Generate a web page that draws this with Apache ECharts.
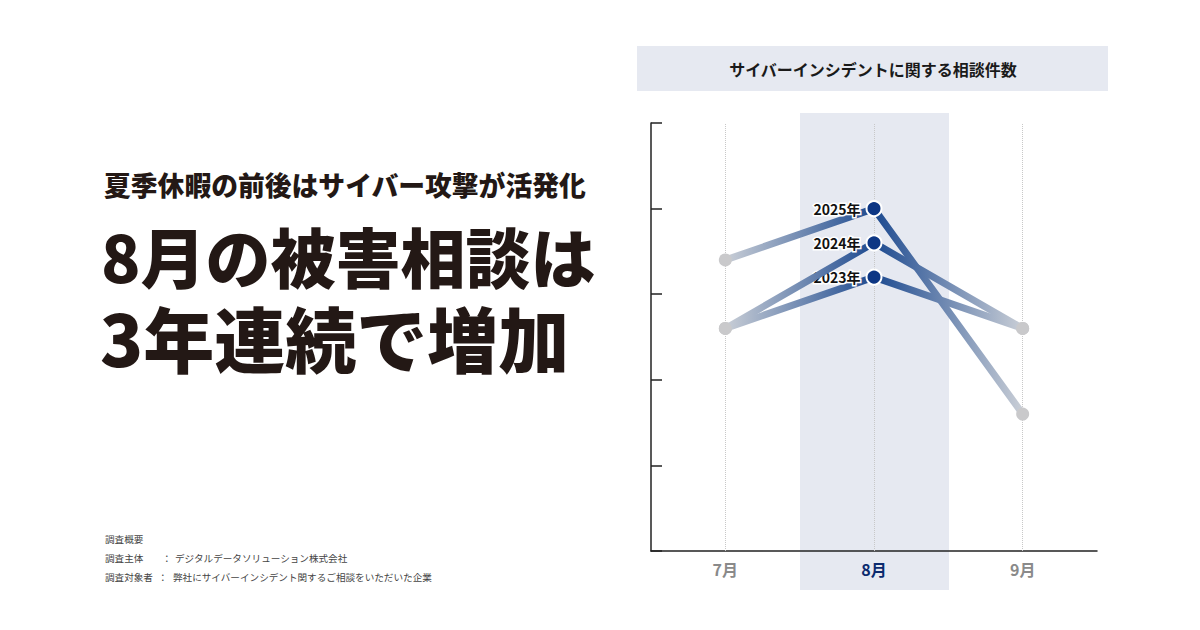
<!DOCTYPE html>
<html>
<head>
<meta charset="UTF-8">
<script src="https://cdn.jsdelivr.net/npm/echarts@6/dist/echarts.min.js"></script>
<style>
html,body{margin:0;padding:0;background:#fff;}
#main{width:1200px;height:630px;}
</style>
</head>
<body>
<div id="main"></div>
<script>
// 月
var months = ['7月', '8月', '9月'];
// 相談件数（目盛なし、相対値）
var years = ['2023年', '2024年', '2025年'];
var v2023 = [2.6, 3.2, 2.6];
var v2024 = [2.6, 3.6, 2.6];
var v2025 = [3.4, 4.0, 1.6];
var yTicks = [0, 1, 2, 3, 4, 5];

var FONT = '"Noto Sans CJK JP", "Noto Sans", sans-serif';
var NAVY = '#0d3684';
var GRAY_DOT = '#c9c9cb';

function buildData(vals) {
  return vals.map(function (v, i) {
    if (i === 1) {
      return { value: v, symbolSize: 15, itemStyle: { color: NAVY, borderColor: '#fff', borderWidth: 2 } };
    }
    return { value: v, symbolSize: 13, itemStyle: { color: GRAY_DOT, borderWidth: 0 } };
  });
}

function lineGrad() {
  return new echarts.graphic.LinearGradient(0, 0, 1, 0, [
    { offset: 0, color: '#c9ced6' },
    { offset: 0.5, color: '#1d4a90' },
    { offset: 1, color: '#c9ced6' }
  ]);
}

function makeSeries(name, vals, extra) {
  var s = {
    name: name,
    type: 'line',
    data: buildData(vals),
    symbol: 'circle',
    lineStyle: { width: 7, color: lineGrad(), cap: 'round' },
    label: {
      show: true,
      position: 'left',
      distance: 5,
      formatter: function (p) { return p.dataIndex === 1 ? name : ''; },
      fontFamily: FONT,
      fontWeight: 'bold',
      fontSize: 14,
      color: '#111',
      textBorderColor: '#fff',
      textBorderWidth: 3
    },
    emphasis: { disabled: true },
    silent: true,
    animation: false
  };
  if (extra) { for (var k in extra) s[k] = extra[k]; }
  return s;
}

var chart = echarts.init(document.getElementById('main'), null, { renderer: 'svg' });

var small = '9.6px ' + FONT;

chart.setOption({
  backgroundColor: '#fff',
  animation: false,
  grid: { left: 651, right: 103, top: 123, bottom: 79 },
  xAxis: {
    type: 'category',
    data: months,
    boundaryGap: true,
    axisLine: { lineStyle: { color: '#222', width: 1.5 } },
    axisTick: { inside: true, alignWithLabel: true, length: 6, lineStyle: { color: '#222', width: 1.5 } },
    axisLabel: {
      margin: 10,
      fontFamily: FONT,
      fontWeight: 'bold',
      fontSize: 16,
      color: function (v) { return v === '8月' ? '#0b2a6e' : '#8a8a8a'; }
    },
    splitLine: { show: false }
  },
  yAxis: {
    type: 'value',
    min: yTicks[0],
    max: yTicks[yTicks.length - 1],
    interval: 1,
    axisLine: { show: true, lineStyle: { color: '#222', width: 1.5 } },
    axisTick: { show: true, inside: true, length: 11, lineStyle: { color: '#222', width: 1.5 } },
    axisLabel: { show: false },
    splitLine: { show: false }
  },
  graphic: [
    // 8月ハイライト帯
    { type: 'rect', z: -10, shape: { x: 800, y: 113, width: 149, height: 477 }, style: { fill: '#e6e9f1' } },
    // グラフタイトル
    { type: 'rect', z: -10, shape: { x: 637, y: 46, width: 471, height: 45 }, style: { fill: '#e6e9f1' } },
    { type: 'text', x: 873, y: 69, style: { text: 'サイバーインシデントに関する相談件数', font: 'bold 16px ' + FONT, fill: '#1a1a1a', textAlign: 'center', textVerticalAlign: 'middle' } },
    // 見出し
    { type: 'text', x: 104, y: 184, style: { text: '夏季休暇の前後はサイバー攻撃が活発化', font: '900 26.8px ' + FONT, fill: '#231815', textAlign: 'left', textVerticalAlign: 'middle' } },
    { type: 'text', x: 101, y: 255, style: { text: '8月の被害相談は', font: '900 65px ' + FONT, fill: '#231815', textAlign: 'left', textVerticalAlign: 'middle' } },
    { type: 'text', x: 100, y: 336, style: { text: '3年連続で増加', font: '900 71px ' + FONT, fill: '#231815', textAlign: 'left', textVerticalAlign: 'middle' } },
    // 調査概要
    { type: 'text', x: 105, y: 539, style: { text: '調査概要', font: small, fill: '#444', textVerticalAlign: 'middle' } },
    { type: 'text', x: 105, y: 558, style: { text: '調査主体', font: small, fill: '#444', textVerticalAlign: 'middle' } },
    { type: 'text', x: 162, y: 558, style: { text: '：', font: small, fill: '#444', textVerticalAlign: 'middle' } },
    { type: 'text', x: 175, y: 558, style: { text: 'デジタルデータソリューション株式会社', font: small, fill: '#444', textVerticalAlign: 'middle' } },
    { type: 'text', x: 105, y: 577, style: { text: '調査対象者', font: small, fill: '#444', textVerticalAlign: 'middle' } },
    { type: 'text', x: 158, y: 577, style: { text: '：', font: small, fill: '#444', textVerticalAlign: 'middle' } },
    { type: 'text', x: 173, y: 577, style: { text: '弊社にサイバーインシデント関するご相談をいただいた企業', font: small, fill: '#444', textVerticalAlign: 'middle' } }
  ],
  series: [
    makeSeries(years[0], v2023, {
      z: 3,
      markLine: {
        silent: true,
        symbol: 'none',
        label: { show: false },
        lineStyle: { type: 'dotted', color: '#c8c8c8', width: 1 },
        data: months.map(function (m) { return { xAxis: m }; }),
        z: 1
      }
    }),
    makeSeries(years[1], v2024, { z: 4 }),
    makeSeries(years[2], v2025, { z: 5 })
  ]
});
</script>
</body>
</html>
